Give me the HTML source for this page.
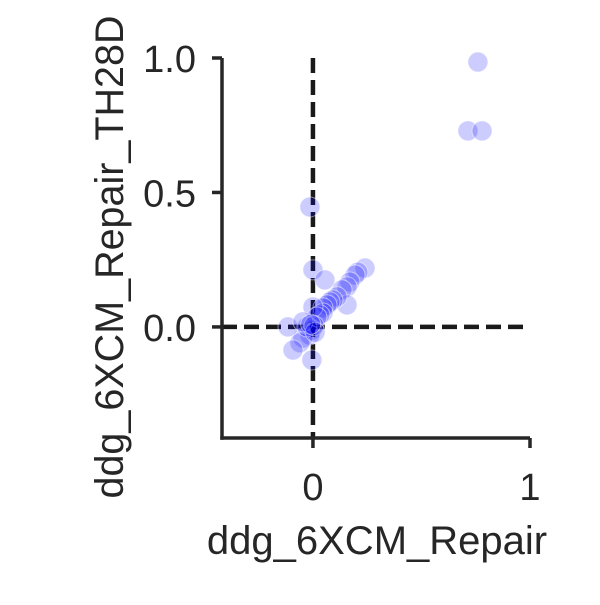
<!DOCTYPE html>
<html><head><meta charset="utf-8"><style>
body{margin:0;background:#fff}
svg text{font-family:"Liberation Sans",sans-serif;fill:#262626}
</style></head><body>
<svg id="chart" width="600" height="600" xmlns="http://www.w3.org/2000/svg">
<g id="grid"></g>
<g id="pts"></g>
<g id="axes"></g>
</svg>
<script>
const xVals=[0.76,0.714,0.779,-0.014,0,0.055,0.24,0.207,0.194,0.17,0.157,0.134,0.157,0.111,0.092,0.078,0.065,0.046,0.046,0.032,0,0.018,-0.005,-0.014,-0.046,-0.06,-0.092,-0.005,-0.115,-0.028,-0.046,0.005,0.01,-0.01];
const yVals=[0.985,0.729,0.729,0.446,0.212,0.175,0.219,0.204,0.193,0.167,0.149,0.138,0.082,0.112,0.1,0.093,0.082,0.071,0.052,0.045,0.074,0.037,-0.011,-0.03,-0.041,-0.059,-0.086,-0.123,0,0,0.019,0.005,-0.02,0.01];
const xTicks=[0,1];
const yTicks=[0.0,0.5,1.0];
const xTickLabels=["0","1"];
const yTickLabels=["0.0","0.5","1.0"];
const X0=222,X1=530,xmin=-0.419,xmax=1.0;
const Y0=438,Y1=58,ymin=-0.413,ymax=1.0;
const sx=v=>X0+(v-xmin)/(xmax-xmin)*(X1-X0);
const sy=v=>Y0-(v-ymin)/(ymax-ymin)*(Y0-Y1);
const NS="http://www.w3.org/2000/svg";
function mk(t,a,p){const e=document.createElementNS(NS,t);for(const k in a)e.setAttribute(k,a[k]);p.appendChild(e);return e;}
const pts=document.getElementById('pts'),ax=document.getElementById('axes'),gr=document.getElementById('grid');
let l=mk('line',{x1:sx(0),x2:sx(0),y1:Y1,y2:Y0,stroke:'#1a1a1a','stroke-width':4.5,'stroke-dasharray':'15,7'},gr);


l=mk('line',{x1:X0,x2:X1,y1:sy(0),y2:sy(0),stroke:'#1a1a1a','stroke-width':4.5,'stroke-dasharray':'15,7'},gr);


xVals.forEach((x,i)=>{const c=mk('circle',{cx:sx(x),cy:sy(yVals[i]),r:10,fill:'rgba(0,0,255,0.2)',stroke:'rgba(255,255,255,0.5)','stroke-width':1},pts);

});
l=mk('line',{x1:X0,x2:X0,y1:Y1,y2:Y0+1.75,stroke:'#262626','stroke-width':3.5},ax);


l=mk('line',{x1:X0-1.75,x2:X1,y1:Y0,y2:Y0,stroke:'#262626','stroke-width':3.5},ax);


xTicks.forEach((t,i)=>{mk('line',{x1:sx(t),x2:sx(t),y1:Y0,y2:Y0+10,stroke:'#262626','stroke-width':3.5},ax);
const tx=mk('text',{x:sx(t),y:Y0+62,'font-size':38,'text-anchor':'middle'},ax);tx.textContent=xTickLabels[i];

});
yTicks.forEach((t,i)=>{mk('line',{x1:X0-10,x2:X0,y1:sy(t),y2:sy(t),stroke:'#262626','stroke-width':3.5},ax);
const tx=mk('text',{x:X0-26,y:sy(t)+14,'font-size':38,'text-anchor':'end'},ax);tx.textContent=yTickLabels[i];

});
let t=mk('text',{x:377,y:554,'font-size':40,'text-anchor':'middle'},ax);t.textContent='ddg_6XCM_Repair';


t=mk('text',{x:0,y:0,'font-size':39.5,'text-anchor':'middle',transform:'translate(123,257) rotate(-90)'},ax);t.textContent='ddg_6XCM_Repair_TH28D';


</script>
</body></html>
